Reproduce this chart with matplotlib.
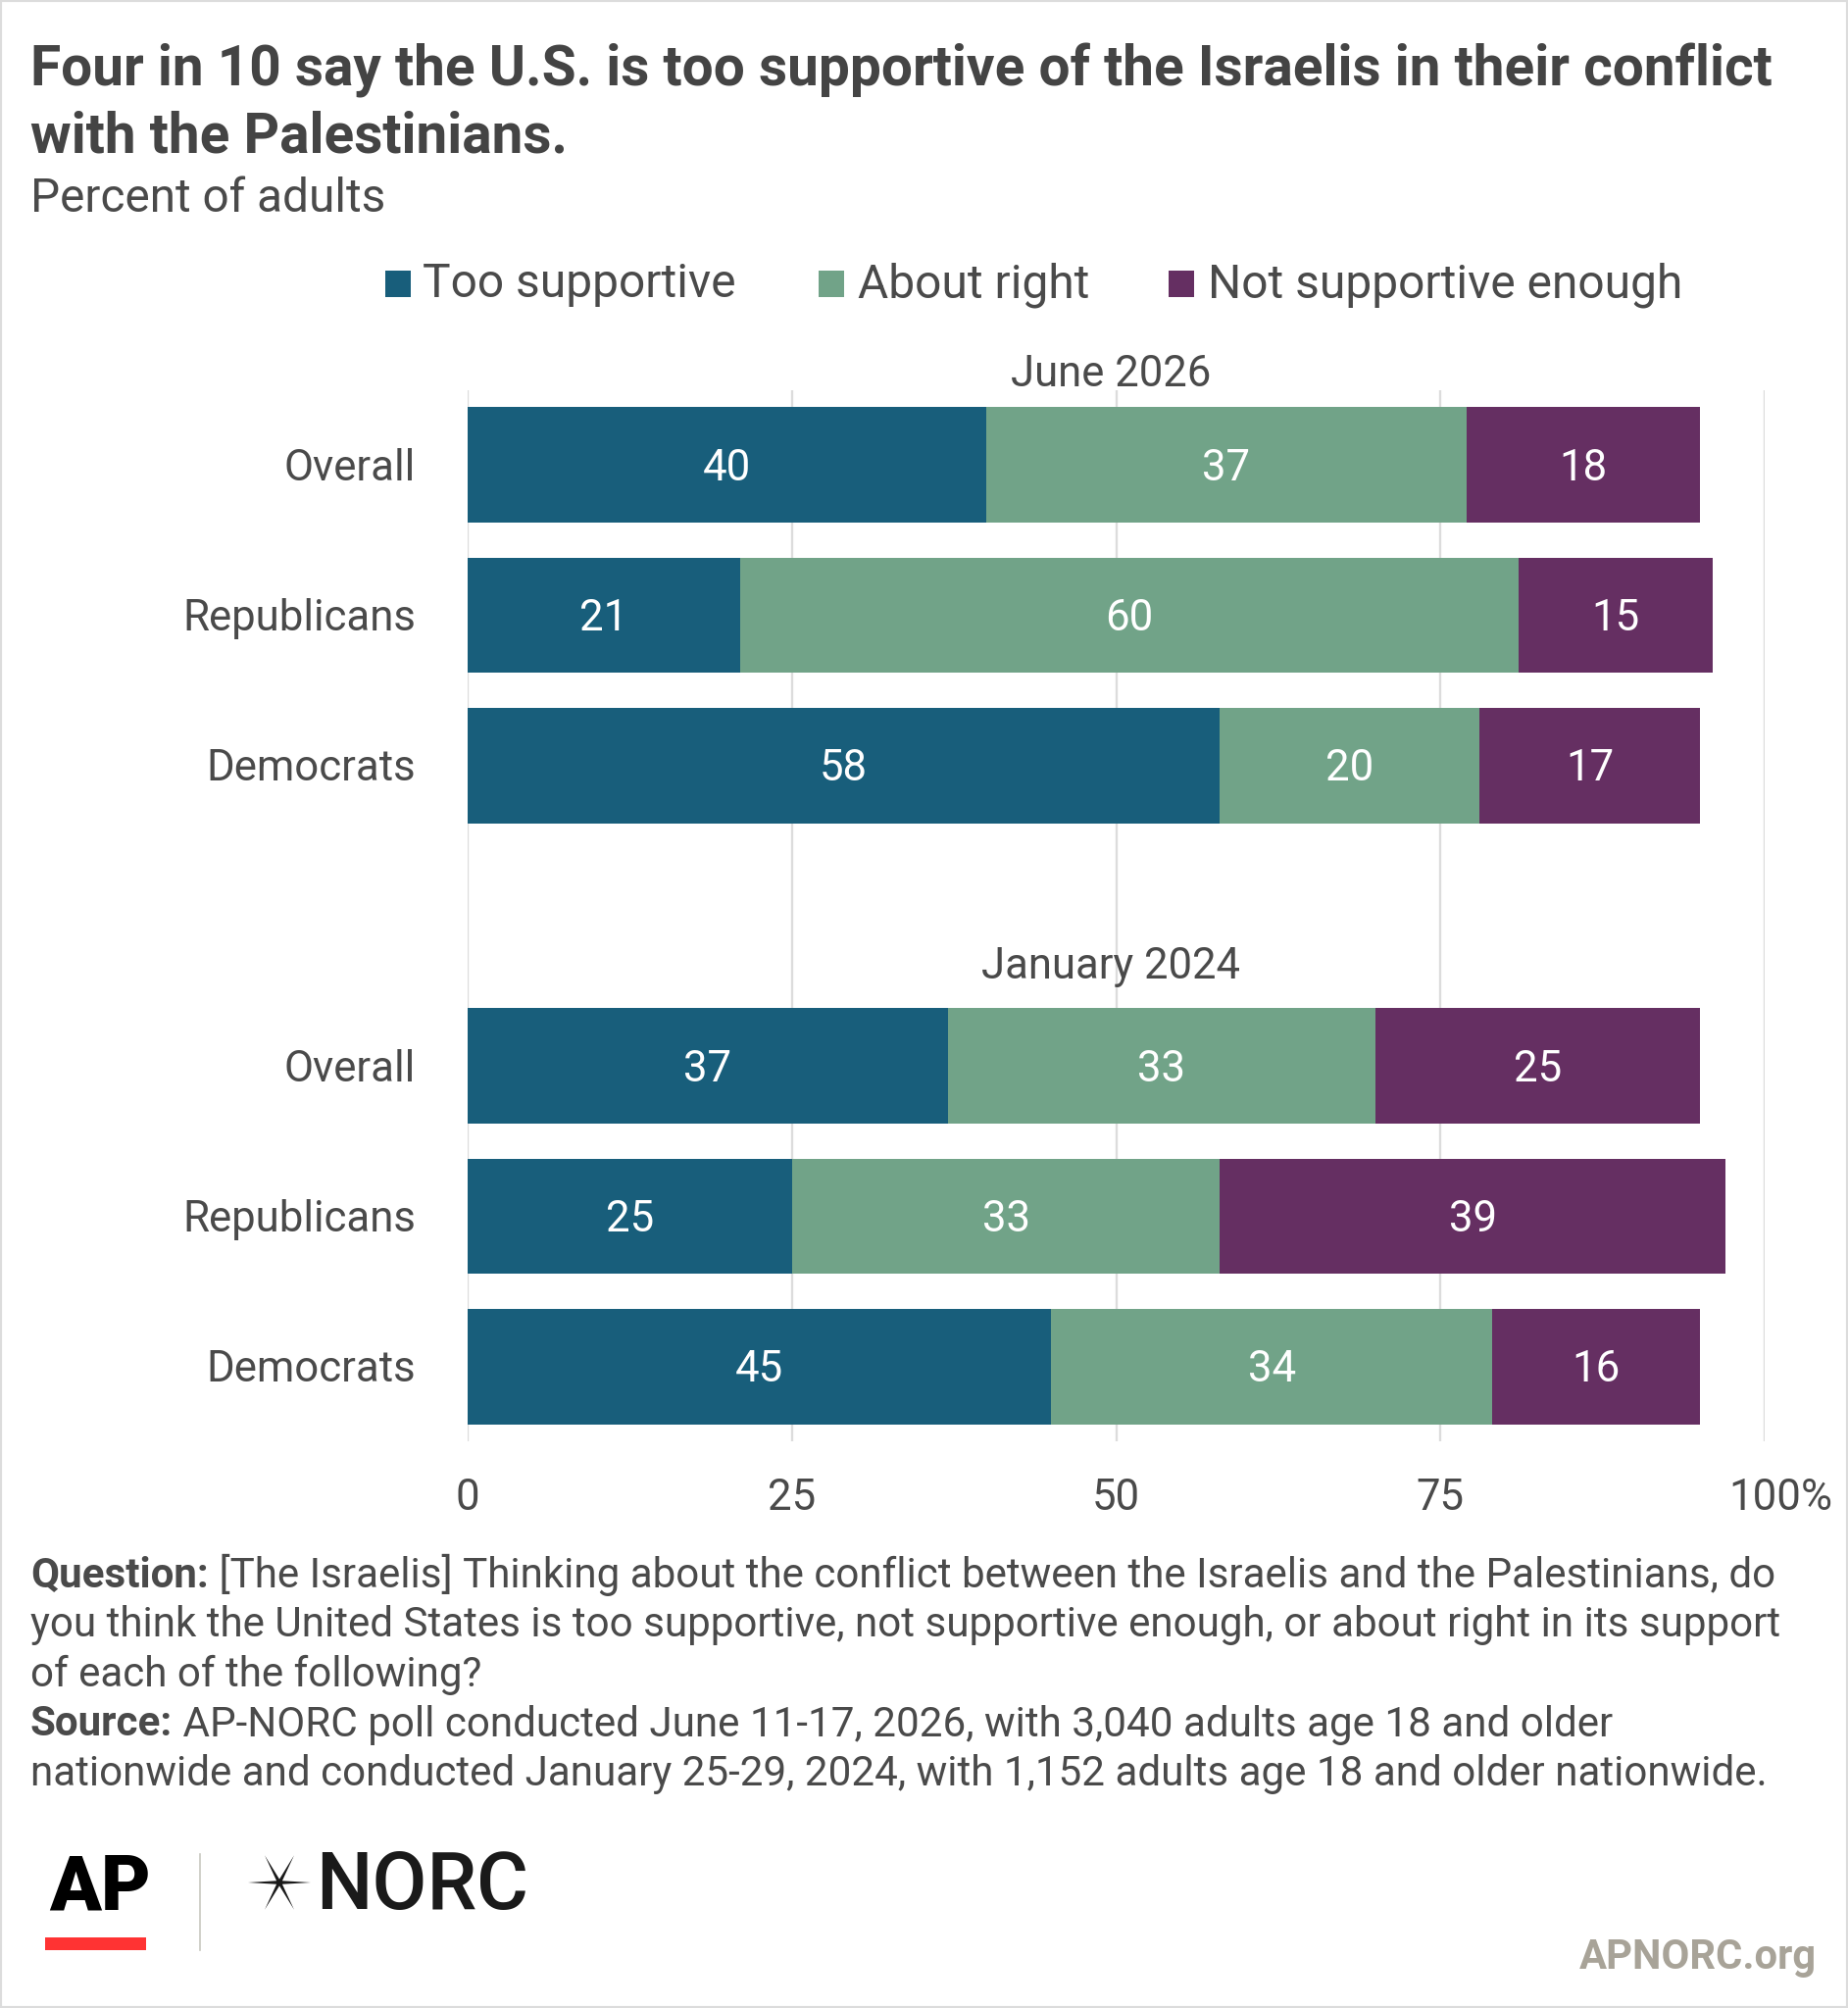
import matplotlib
matplotlib.use("Agg")
import matplotlib.pyplot as plt
import matplotlib.transforms as mtransforms
from matplotlib.patches import Rectangle, Polygon
import numpy as np

# ---------------- data ----------------
groups = ["June 2026", "January 2024"]
row_labels = ["Overall", "Republicans", "Democrats",
              "Overall", "Republicans", "Democrats"]
series = ["Too supportive", "About right", "Not supportive enough"]
too_supportive = [40, 21, 58, 37, 25, 45]
about_right = [37, 60, 20, 33, 33, 34]
not_enough = [18, 15, 17, 25, 39, 16]
ticks = [0, 25, 50, 75, 100]
tick_labels = ["0", "25", "50", "75", "100"]

title_lines = ["Four in 10 say the U.S. is too supportive of the Israelis in their conflict",
               "with the Palestinians."]
subtitle = "Percent of adults"
footer = [("Question:", " [The Israelis] Thinking about the conflict between the Israelis and the Palestinians, do"),
          ("", "you think the United States is too supportive, not supportive enough, or about right in its support"),
          ("", "of each of the following?"),
          ("Source:", " AP-NORC poll conducted June 11-17, 2026, with 3,040 adults age 18 and older"),
          ("", "nationwide and conducted January 25-29, 2024, with 1,152 adults age 18 and older nationwide.")]

# ---------------- style ----------------
colors = ["#185e7b", "#71a388", "#652f62"]
TXT = "#4a4a4a"
TITLE = "#444444"
GRID = "#dcdcdc"

W, H, DPI = 1885, 2048, 100
plt.rcParams["font.family"] = ["Roboto", "DejaVu Sans"]

fig = plt.figure(figsize=(W / DPI, H / DPI), dpi=DPI)
fig.patch.set_facecolor("white")
renderer = fig.canvas.get_renderer()


def fx(px):
    return px / W


def fy(py):
    return 1 - py / H


def fit(text, target, weight="normal"):
    t = fig.text(0, 0, text, fontsize=100, fontweight=weight)
    w = t.get_window_extent(renderer).width
    t.remove()
    return 100 * target / w


def width_of(t):
    return t.get_window_extent(renderer).width


# font sizes fitted to widths measured on the reference
fs_title = fit(title_lines[0], 1777, "bold")
fs_sub = fit(subtitle, 363)
fs_leg = fit(series[2], 484)
fs_lab = fit("Republicans", 238)
fs_head = fit(groups[0], 204)
fs_foot = fit(footer[1][1], 1787)
fs_org = fit("APNORC.org", 242, "bold")
fs_norc = fit("NORC", 217, "medium")

# ---------------- title block ----------------
fig.text(fx(31), fy(88), title_lines[0], fontsize=fs_title, fontweight="bold",
         color=TITLE, va="baseline", ha="left")
fig.text(fx(31), fy(156), title_lines[1], fontsize=fs_title, fontweight="bold",
         color=TITLE, va="baseline", ha="left")
fig.text(fx(31), fy(216), subtitle, fontsize=fs_sub, color=TXT,
         va="baseline", ha="left")

# legend (manual)
leg_sq_x = [393, 835, 1192]
leg_tx_x = [431, 875, 1232]
for c, name, sx, tx in zip(colors, series, leg_sq_x, leg_tx_x):
    fig.add_artist(Rectangle((fx(sx), fy(303)), 26 / W, 27 / H,
                             transform=fig.transFigure, facecolor=c,
                             edgecolor="none"))
    fig.text(fx(tx), fy(303), name, fontsize=fs_leg, color=TXT,
             va="baseline", ha="left")

# ---------------- chart ----------------
ax_top, ax_bot = 397.6, 1470.4
ax = fig.add_axes([fx(477), fy(ax_bot), fx(1800) - fx(477), (ax_bot - ax_top) / H])
row_pos = np.array([0, 1, 2, 4, 5, 6])
header_pos = [-0.525, 3.415]
bar_h = 0.767

lab_px = fs_lab * DPI / 72.0
cap = 0.711 * lab_px

left = np.zeros(len(row_pos))
for vals, c in zip([too_supportive, about_right, not_enough], colors):
    vals = np.array(vals, dtype=float)
    ax.barh(row_pos, vals, left=left, height=bar_h, color=c, edgecolor="none", zorder=2)
    tr = mtransforms.offset_copy(ax.transData, fig=fig, x=0, y=-cap / 2, units="dots")
    for y, l, v in zip(row_pos, left, vals):
        ax.text(l + v / 2, y, f"{int(v)}", transform=tr, ha="center", va="baseline",
                color="white", fontsize=fs_lab, zorder=3)
    left = left + vals

ax.set_xlim(0, 100)
ax.set_ylim(6.5, -0.5)
for s in ax.spines.values():
    s.set_visible(False)
ax.set_xticks([])
ax.set_yticks([])
for t in ticks:
    ax.axvline(t, color=GRID, lw=1.65, zorder=1)

# category labels
tr_lab = mtransforms.offset_copy(ax.transData, fig=fig, x=-53, y=-cap / 2, units="dots")
for y, lab in zip(row_pos, row_labels):
    ax.text(0, y, lab, transform=tr_lab, ha="right", va="baseline",
            fontsize=fs_lab, color=TXT, clip_on=False)

# group headers
for g, y in zip(groups, header_pos):
    ax.text(49.6, y, g, ha="center", va="baseline", fontsize=fs_head, color=TXT,
            clip_on=False)

# tick labels
tick_tr = mtransforms.blended_transform_factory(ax.transData, ax.transAxes)
tick_tr = tick_tr + mtransforms.ScaledTranslation(0, -69.6 / DPI, fig.dpi_scale_trans)
last = None
for t, lab in zip(ticks, tick_labels):
    last = ax.text(t, 0, lab, transform=tick_tr, ha="center", va="baseline",
                   fontsize=fs_lab, color=TXT, clip_on=False)
ax.annotate("%", xy=(1, 0), xycoords=last, ha="left", va="bottom",
            fontsize=fs_lab, color=TXT, annotation_clip=False)

# ---------------- footer ----------------
base = [1619, 1669.5, 1720, 1770.5, 1821]
for (b, rest), y in zip(footer, base):
    if b:
        tb = fig.text(fx(31), fy(y), b, fontsize=fs_foot, fontweight="bold",
                      color=TXT, va="baseline", ha="left")
        wb = width_of(tb)
        fig.text(fx(31 + wb), fy(y), rest, fontsize=fs_foot, color=TXT,
                 va="baseline", ha="left")
    else:
        fig.text(fx(31), fy(y), rest, fontsize=fs_foot, color=TXT,
                 va="baseline", ha="left")

# ---------------- logos ----------------
fig.text(fx(50), fy(1947), "AP", fontsize=56, fontweight="black", color="black",
         va="baseline", ha="left")
fig.add_artist(Rectangle((fx(46), fy(1989)), 103 / W, 13 / H,
                         transform=fig.transFigure, facecolor="#ff3333", edgecolor="none"))
fig.add_artist(plt.Line2D([fx(204), fx(204)], [fy(1891), fy(1989)],
                          transform=fig.transFigure, color="#c8c8c0", lw=1.2))
# six-pointed NORC star
cx, cy = 285, 1920
tips = [(0, 32), (61.6, 31.5), (118.4, 31.5), (180, 32), (241.6, 31.5), (298.4, 31.5)]
pts = []
for i, (a, r) in enumerate(tips):
    a_r = np.deg2rad(a)
    pts.append((fx(cx + r * np.cos(a_r)), fy(cy - r * np.sin(a_r))))
    a_next = tips[(i + 1) % len(tips)][0]
    if a_next < a:
        a_next += 360
    am = np.deg2rad((a + a_next) / 2)
    pts.append((fx(cx + 3.4 * np.cos(am)), fy(cy - 3.4 * np.sin(am))))
fig.add_artist(Polygon(pts, closed=True, transform=fig.transFigure,
                       facecolor="#1a1a1a", edgecolor="none"))
fig.text(fx(322), fy(1947), "NORC", fontsize=fs_norc, fontweight="medium", color="#1a1a1a",
         va="baseline", ha="left")

fig.text(fx(1853), fy(2008), "APNORC.org", fontsize=fs_org, fontweight="bold",
         color="#a8a398", va="baseline", ha="right")

# border
fig.add_artist(Rectangle((0, 0), 1, 1, transform=fig.transFigure, fill=False,
                         edgecolor="#dcdcdc", lw=3))

fig.savefig("out.png", dpi=DPI, facecolor="white")
